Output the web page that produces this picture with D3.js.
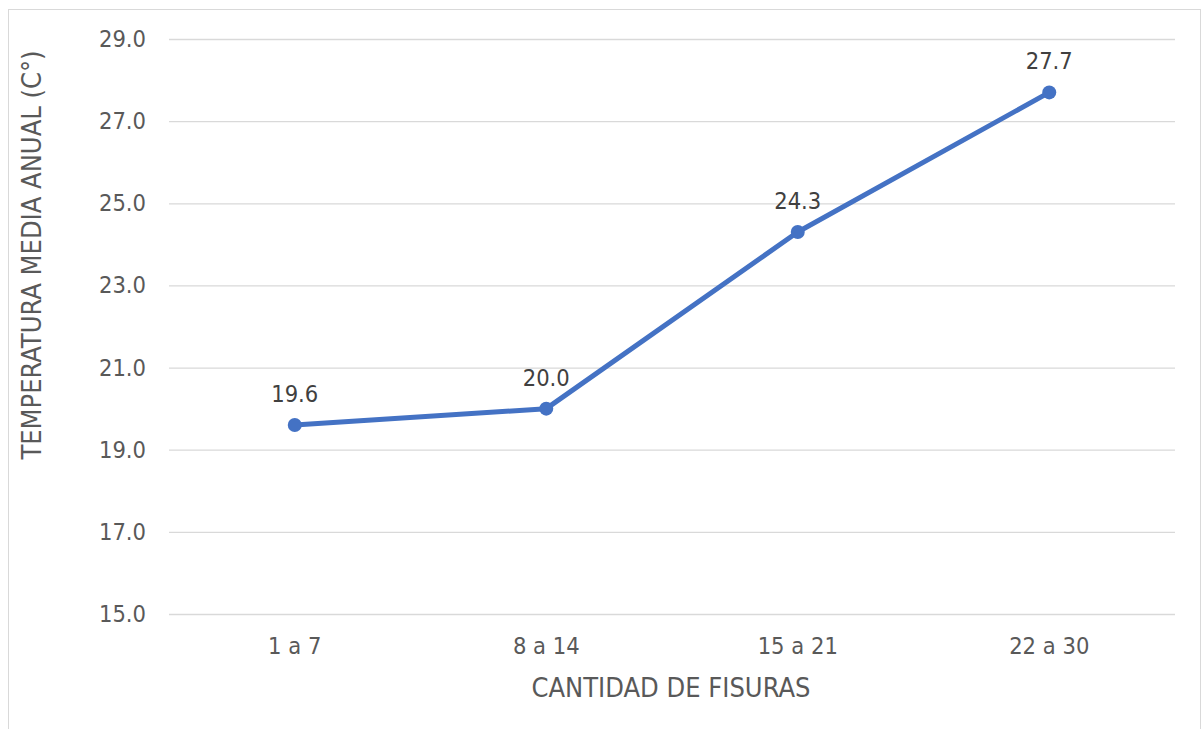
<!DOCTYPE html>
<html>
<head>
<meta charset="utf-8">
<script src="https://cdn.jsdelivr.net/npm/d3@7"></script>
<style>
  body { margin: 0; background: #fff; }
  svg text { font-family: Tahoma, "DejaVu Sans Condensed", "DejaVu Sans", sans-serif; }
</style>
</head>
<body>
<div id="chart"></div>
<script>
// data
var categories = ["1 a 7", "8 a 14", "15 a 21", "22 a 30"];
var temperatures = [19.6, 20.0, 24.3, 27.7];
var yTicks = [15, 17, 19, 21, 23, 25, 27, 29];
var xTitle = "CANTIDAD DE FISURAS";
var yTitle = "TEMPERATURA MEDIA ANUAL (C°)";

var W = 1203, H = 729;
var margin = {top: 39, right: 28, bottom: 115, left: 169};

var svg = d3.select("#chart").append("svg")
    .attr("width", W)
    .attr("height", H);

// chart border
svg.append("rect")
    .attr("x", 8.5).attr("y", 9.5)
    .attr("width", 1192).attr("height", 740)
    .attr("fill", "none")
    .attr("stroke", "#d9d9d9")
    .attr("stroke-width", 1);

var x = d3.scaleBand()
    .domain(categories)
    .range([margin.left, W - margin.right]);

var y = d3.scaleLinear()
    .domain([15, 29])
    .range([H - margin.bottom, margin.top]);

// gridlines + y tick labels
svg.append("g")
    .attr("transform", "translate(" + margin.left + ",0)")
    .call(d3.axisLeft(y)
        .tickValues(yTicks)
        .tickSize(-(W - margin.left - margin.right))
        .tickFormat(d3.format(".1f"))
        .tickPadding(23))
    .call(function(g) { g.select(".domain").remove(); })
    .call(function(g) {
      g.selectAll(".tick line").attr("stroke", "#d9d9d9").attr("stroke-width", 1.3);
      g.selectAll(".tick text")
        .attr("fill", "#595959")
        .style("font-size", "23.5px");
    });

// x axis labels
svg.append("g")
    .attr("transform", "translate(0," + (H - margin.bottom) + ")")
    .call(d3.axisBottom(x).tickSize(0).tickPadding(23))
    .call(function(g) { g.select(".domain").remove(); })
    .call(function(g) {
      g.selectAll(".tick text")
        .attr("fill", "#595959")
        .style("font-size", "23.5px");
    });

// line
var data = categories.map(function(c, i) { return {cat: c, value: temperatures[i]}; });

var line = d3.line()
    .x(function(d) { return x(d.cat) + x.bandwidth() / 2; })
    .y(function(d) { return y(d.value); });

svg.append("path")
    .datum(data)
    .attr("fill", "none")
    .attr("stroke", "#4472c4")
    .attr("stroke-width", 5)
    .attr("stroke-linejoin", "round")
    .attr("d", line);

svg.selectAll(".pt")
    .data(data)
  .enter().append("circle")
    .attr("class", "pt")
    .attr("r", 7)
    .attr("fill", "#4472c4")
    .attr("cx", function(d) { return x(d.cat) + x.bandwidth() / 2; })
    .attr("cy", function(d) { return y(d.value); });

// data labels
svg.selectAll(".lbl")
    .data(data)
  .enter().append("text")
    .attr("class", "lbl")
    .attr("text-anchor", "middle")
    .attr("fill", "#404040")
    .style("font-size", "23.5px")
    .attr("x", function(d) { return x(d.cat) + x.bandwidth() / 2; })
    .attr("y", function(d) { return y(d.value) - 23; })
    .text(function(d) { return d.value.toFixed(1); });

// axis titles
svg.append("text")
    .attr("text-anchor", "middle")
    .attr("x", 671)
    .attr("y", 697)
    .attr("fill", "#595959")
    .style("font-size", "27px")
    .text(xTitle);

svg.append("text")
    .attr("text-anchor", "middle")
    .attr("transform", "translate(41,255)rotate(-90)")
    .attr("fill", "#595959")
    .style("font-size", "27px")
    .text(yTitle);
</script>
</body>
</html>
